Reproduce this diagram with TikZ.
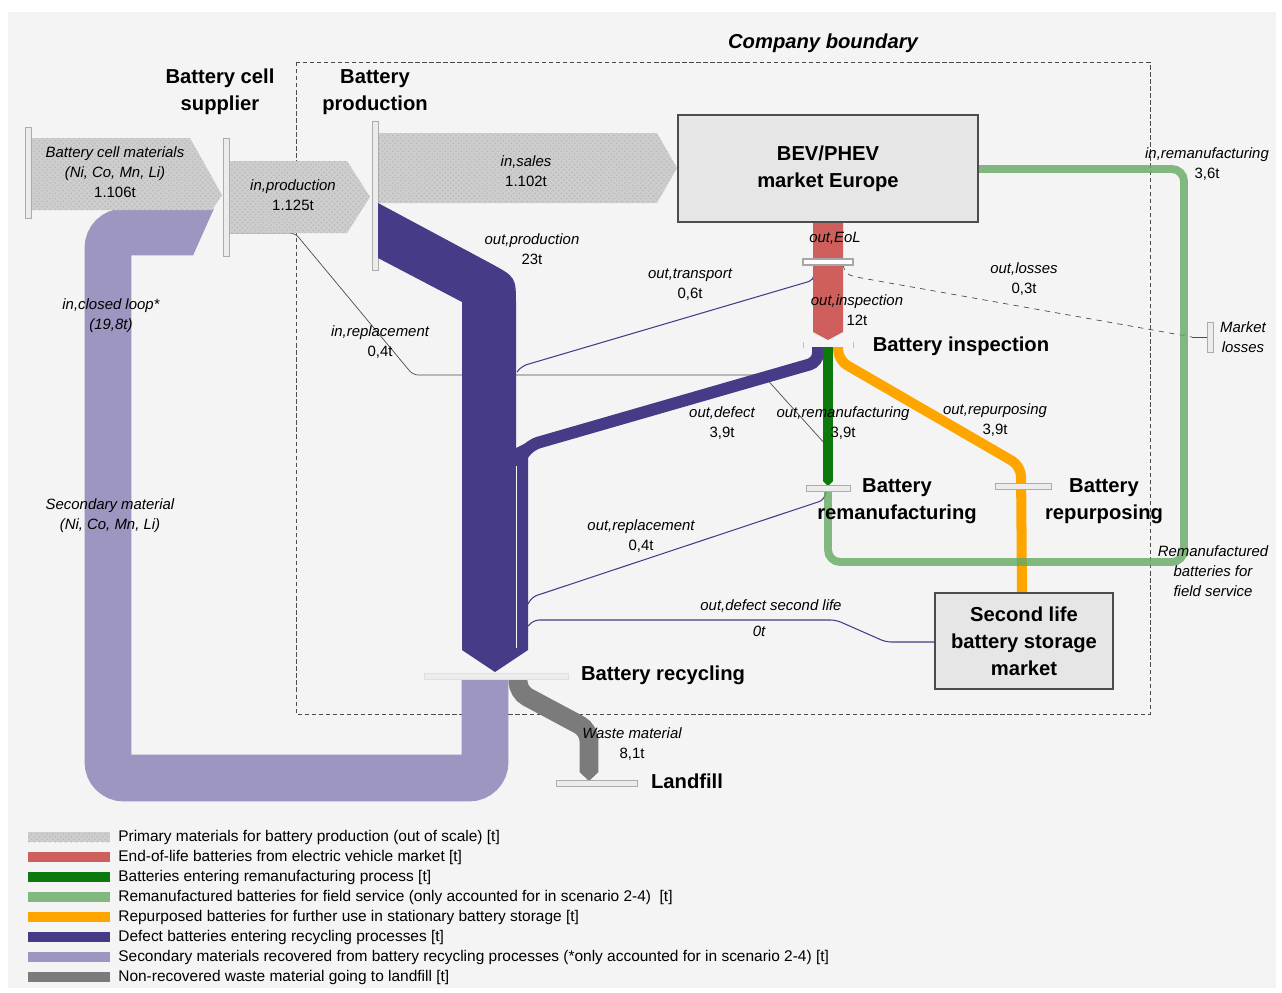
\documentclass[tikz,border=0pt]{standalone}
\usepackage{fontspec}
\setmainfont{Liberation Sans}
\usepackage{xcolor}
\usepackage{tikz}
\usetikzlibrary{patterns, positioning, calc}

\definecolor{bgGray}{HTML}{F4F4F4}
\definecolor{primGray}{HTML}{CDCDCD}
\definecolor{boxGray}{HTML}{E6E6E6}
\definecolor{eolRed}{HTML}{CF5F5C}
\definecolor{remanGreen}{HTML}{0C790C}
\definecolor{fieldGreen}{HTML}{63A963}
\definecolor{repuOrange}{HTML}{FFA500}
\definecolor{defectBlue}{HTML}{463B86}
\definecolor{secPurple}{HTML}{9C96C0}
\definecolor{wasteGray}{HTML}{7B7B7B}

\begin{document}
\begin{tikzpicture}[x=0.02cm, y=-0.02cm,
        title/.style={font=\fontsize{11.5}{15.3}\selectfont\bfseries, align=center, inner sep=0pt},
        flowlbl/.style={font=\fontsize{8.5}{11.3}\selectfont, align=center, inner sep=0pt},
        legtext/.style={font=\fontsize{8.8}{9}\selectfont, anchor=west, inner sep=0pt},
        prim/.style={fill=primGray, postaction={pattern=crosshatch dots, pattern color=gray!55}},
        procbar/.style={fill=gray!15, draw=gray!65, line width=0.5pt},
        thinflow/.style={defectBlue, line width=0.6pt, rounded corners=3pt},
        thingray/.style={gray!60!black, line width=0.4pt, rounded corners=3pt},
        market/.style={draw=black!70, fill=boxGray, line width=0.8pt, font=\fontsize{11.5}{15.3}\selectfont\bfseries, align=center}]

        \useasboundingbox (0,0) rectangle (1282,992);
        \fill[white] (0,0) rectangle (1282,992);
        \fill[bgGray] (8,12) rectangle (1276,988);% Panel

        \draw[black!70, line width=0.5pt, dash pattern=on 2.5pt off 1.5pt] (296,62) rectangle (1150,714);% Company boundary
        \node[font=\fontsize{11.5}{14}\selectfont\bfseries\itshape] (boundary) at (823,43) {Company boundary};

        % Secondary material loop and waste
        \draw[secPurple, line width=26.6pt, rounded corners=9pt] (485,679) -- (485,778) -- (108,778) -- (108,232) -- (193,232);
        \fill[secPurple] (193,208.5) -- (214,208.5) -- (193,255.5) -- cycle;
        \draw[wasteGray, line width=10.8pt, rounded corners=6pt] (518,679) -- (518,692) -- (589,730) -- (589,772);
        \fill[wasteGray] (579.5,772) -- (598.5,772) -- (589,781) -- cycle;

        % Thin connectors
        \draw[thingray] (229,233) -- (295,233) -- (413,375) -- (763,375) -- (826,445);% in,replacement
        \draw[thingray, dashed] (843,265) -- (846,274) -- (856,277) -- (1192,337);% out,losses
        \draw[thingray] (1192,337) -- (1207,337);
        \draw[thinflow] (814,265) -- (814,280) -- (522,366) -- (517,372);% out,transport
        \draw[thinflow] (826,491) -- (824,500) -- (532,597) -- (528,604);% out,replacement
        \draw[thinflow] (528,626) -- (534,620) -- (836,620) -- (886,642) -- (935,642);% out,defect second life

        % Primary material flows
        \fill[prim] (30,138) -- (190,138) -- (222,195) -- (212,210) -- (30,210) -- cycle;
        \fill[prim] (230,161) -- (347,161) -- (370,197) -- (347,233) -- (230,233) -- cycle;
        \fill[prim] (378,133) -- (657,133) -- (677,168) -- (657,203) -- (378,203) -- cycle;
        \draw[procbar] (25,127) rectangle (31,218);
        \draw[procbar] (223,138) rectangle (229,256);
        \draw[procbar] (372,121) rectangle (378,270);

        % Defect batteries to recycling
        \draw[defectBlue, line width=6.8pt, rounded corners=5pt] (818,347) -- (818,362) -- (530,445) -- (522,456);% out,defect
        \fill[defectBlue] (378,203) -- (490,263) .. controls (516,277) .. (516,305) -- (516,448) -- (528,442)
              -- (528,650) -- (495,672) -- (462,650) -- (462,302) -- (378,258) -- cycle;
        \draw[bgGray!60, line width=0.3pt] (516,466) -- (516,648);

        % End-of-life flow
        \fill[eolRed] (813,222) -- (843,222) -- (843,332) -- (828,340) -- (813,332) -- cycle;
        \draw[gray!70, fill=white, line width=0.6pt] (803,259) rectangle (853,265);
        \draw[gray!50, line width=0.4pt] (803,342) -- (803,348) (853,342) -- (853,348);

        % Repurposing and remanufacturing
        \draw[repuOrange, line width=5.7pt, rounded corners=6pt] (838,347) -- (838,360) -- (1021,466) -- (1022,592);
        \draw[fieldGreen, opacity=0.8, line width=4.5pt, rounded corners=7pt] (828,491) -- (828,562) -- (1184,562) -- (1184,169) -- (978,169);
        \draw[remanGreen, line width=5.7pt] (828,347) -- (828,481);
        \fill[remanGreen] (823,481) -- (833,481) -- (828,486) -- cycle;

        % Process bars
        \draw[procbar] (806,485) rectangle (850,491);
        \draw[procbar] (995,483) rectangle (1051,489);
        \draw[procbar, draw=gray!25] (424,673) rectangle (568,679);
        \draw[procbar] (556,780) rectangle (637,786);
        \draw[procbar] (1207,322) rectangle (1213,352);

        % Markets
        \node[market, minimum width=6cm, minimum height=2.14cm] (bev) at (828,168.5) {BEV/PHEV\\market Europe};
        \node[market, minimum width=3.56cm, minimum height=1.92cm] (second) at (1024,641) {Second life\\battery storage\\market};

        % Process titles
        \node[title] (supplier) at (220,92) {Battery cell\\supplier};
        \node[title] (production) at (375,92) {Battery\\production};
        \node[title] (inspection) at (961,346) {Battery inspection};
        \node[title] (reman) at (897,501) {Battery\\remanufacturing};
        \node[title] (repurp) at (1104,501) {Battery\\repurposing};
        \node[title] (recycling) at (663,675) {Battery recycling};
        \node[title] (landfill) at (687,781) {Landfill};

        % Flow labels
        \node[flowlbl] (cellMat) at (115,172) {\itshape Battery cell materials\\\itshape (Ni, Co, Mn, Li)\\1.106t};
        \node[flowlbl] (inProd) at (293,195) {\itshape in,production\\1.125t};
        \node[flowlbl] (inSales) at (526,171) {\itshape in,sales\\1.102t};
        \node[flowlbl] (outProd) at (532,249) {\itshape out,production\\23t};
        \node[flowlbl] (outTrans) at (690,285) {\itshape out,transport\\0,6t};
        \node[flowlbl] (outEoL) at (835,238) {\itshape out,EoL};
        \node[flowlbl] (outInsp) at (857,310) {\itshape out,inspection\\12t};
        \node[flowlbl] (outLoss) at (1024,279) {\itshape out,losses\\0,3t};
        \node[flowlbl] (inReman) at (1207,164) {\itshape in,remanufacturing\\3,6t};
        \node[flowlbl] (mLoss) at (1243,337) {\itshape Market\\\itshape losses};
        \node[flowlbl] (closedLoop) at (111,316) {\itshape in,closed loop*\\\itshape (19,8t)};
        \node[flowlbl] (inRepl) at (380,342) {\itshape in,replacement\\0,4t};
        \node[flowlbl] (outDef) at (722,423) {\itshape out,defect\\3,9t};
        \node[flowlbl] (outReman) at (843,423) {\itshape out,remanufacturing\\3,9t};
        \node[flowlbl] (outRepu) at (995,420) {\itshape out,repurposing\\3,9t};
        \node[flowlbl] (secMat) at (110,516) {\itshape Secondary material\\\itshape (Ni, Co, Mn, Li)};
        \node[flowlbl] (outRepl) at (641,536) {\itshape out,replacement\\0,4t};
        \node[flowlbl] (outDef2) at (771,606) {\itshape out,defect second life};
        \node[flowlbl] (outDef2v) at (759,631) {\itshape 0t};
        \node[flowlbl] (fieldServ) at (1213,571) {\itshape Remanufactured\\\itshape batteries for\\\itshape field service};
        \node[flowlbl] (waste) at (632,744) {\itshape Waste material\\8,1t};

        % Legend
        \fill[prim] (28,832) rectangle ++(82,10);
        \node[legtext] (legPrim) at (118,837) {Primary materials for battery production (out of scale) [t]};
        \fill[eolRed] (28,852) rectangle ++(82,10);
        \node[legtext] (legEol) at (118,857) {End-of-life batteries from electric vehicle market [t]};
        \fill[remanGreen] (28,872) rectangle ++(82,10);
        \node[legtext] (legReman) at (118,877) {Batteries entering remanufacturing process [t]};
        \fill[fieldGreen, opacity=0.8] (28,892) rectangle ++(82,10);
        \node[legtext] (legField) at (118,897) {Remanufactured batteries for field service (only accounted for in scenario 2-4)\ \ [t]};
        \fill[repuOrange] (28,912) rectangle ++(82,10);
        \node[legtext] (legRepu) at (118,917) {Repurposed batteries for further use in stationary battery storage [t]};
        \fill[defectBlue] (28,932) rectangle ++(82,10);
        \node[legtext] (legDef) at (118,937) {Defect batteries entering recycling processes [t]};
        \fill[secPurple] (28,952) rectangle ++(82,10);
        \node[legtext] (legSec) at (118,957) {Secondary materials recovered from battery recycling processes (*only accounted for in scenario 2-4) [t]};
        \fill[wasteGray] (28,972) rectangle ++(82,10);
        \node[legtext] (legWaste) at (118,977) {Non-recovered waste material going to landfill [t]};
    \end{tikzpicture}
\end{document}
